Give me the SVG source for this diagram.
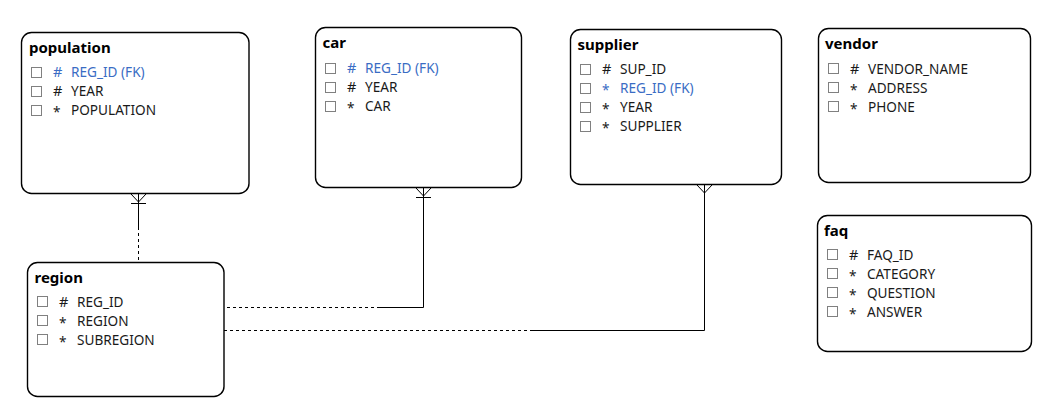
<svg xmlns="http://www.w3.org/2000/svg" width="1056" height="407" viewBox="0 0 1056 407">
<style>
.box{fill:#fff;stroke:#000;stroke-width:1.4}
.title{font-family:"Noto Sans","Open Sans","DejaVu Sans",sans-serif;font-size:15px;font-weight:bold;fill:#000}
.row{font-family:"Noto Sans","Open Sans","DejaVu Sans",sans-serif;font-size:13.6px;fill:#1a1a1a}
.sym{font-size:14.5px}
.fk{fill:#3a6cc4}
.cb{fill:#fff;stroke:#808080;stroke-width:1}
.ln{fill:none;stroke:#000;stroke-width:1}
.dash{fill:none;stroke:#000;stroke-width:1;stroke-dasharray:3,3}
</style>
<rect width="1056" height="407" fill="#fff"/>
<g id="connectors">
  <!-- population - region -->
  <path class="ln" d="M138.5,194 V227"/>
  <path class="dash" d="M138.5,227 V262"/>
  <path class="ln" d="M131,194 L138.5,202 L146,194 M131,203.5 H146"/>
  <!-- car - region -->
  <path class="ln" d="M423.5,188 V307.5 H380"/>
  <path class="dash" d="M380,307.5 H224"/>
  <path class="ln" d="M416,188 L423.5,196 L431,188 M416,197.5 H431"/>
  <!-- supplier - region -->
  <path class="ln" d="M704.5,185 V330.5 H533"/>
  <path class="dash" d="M533,330.5 H224"/>
  <path class="ln" d="M697,185 L704.5,193 L712,185"/>
</g>
<g id="population">
  <rect class="box" x="21.5" y="32.5" width="227.5" height="161" rx="10"/>
  <text class="title" x="29" y="53">population</text>
  <rect class="cb" x="31.5" y="67.5" width="10" height="10"/>
  <text class="row sym fk" x="53" y="77">#</text><text class="row fk" x="71" y="77">REG_ID (FK)</text>
  <rect class="cb" x="31.5" y="86.5" width="10" height="10"/>
  <text class="row sym" x="53" y="96">#</text><text class="row" x="71" y="96">YEAR</text>
  <rect class="cb" x="31.5" y="105.5" width="10" height="10"/>
  <text class="row" x="53" y="117">*</text><text class="row" x="71" y="115">POPULATION</text>
</g>
<g id="car">
  <rect class="box" x="315.5" y="27.5" width="206" height="160" rx="10"/>
  <text class="title" x="322.5" y="48">car</text>
  <rect class="cb" x="325.5" y="63.5" width="10" height="10"/>
  <text class="row sym fk" x="347" y="73">#</text><text class="row fk" x="365" y="73">REG_ID (FK)</text>
  <rect class="cb" x="325.5" y="82.5" width="10" height="10"/>
  <text class="row sym" x="347" y="92">#</text><text class="row" x="365" y="92">YEAR</text>
  <rect class="cb" x="325.5" y="101.5" width="10" height="10"/>
  <text class="row" x="347" y="113">*</text><text class="row" x="365" y="111">CAR</text>
</g>
<g id="supplier">
  <rect class="box" x="570.5" y="29.5" width="211" height="155" rx="10"/>
  <text class="title" x="577.5" y="50">supplier</text>
  <rect class="cb" x="580.5" y="64.5" width="10" height="10"/>
  <text class="row sym" x="602" y="74">#</text><text class="row" x="620" y="74">SUP_ID</text>
  <rect class="cb" x="580.5" y="83.5" width="10" height="10"/>
  <text class="row fk" x="602" y="95">*</text><text class="row fk" x="620" y="93">REG_ID (FK)</text>
  <rect class="cb" x="580.5" y="102.5" width="10" height="10"/>
  <text class="row" x="602" y="114">*</text><text class="row" x="620" y="112">YEAR</text>
  <rect class="cb" x="580.5" y="121.5" width="10" height="10"/>
  <text class="row" x="602" y="133">*</text><text class="row" x="620" y="131">SUPPLIER</text>
</g>
<g id="vendor">
  <rect class="box" x="818.5" y="28.5" width="212" height="154" rx="10"/>
  <text class="title" x="825" y="49">vendor</text>
  <rect class="cb" x="828.5" y="63.5" width="10" height="10"/>
  <text class="row sym" x="850" y="74">#</text><text class="row" x="868" y="74">VENDOR_NAME</text>
  <rect class="cb" x="828.5" y="82.5" width="10" height="10"/>
  <text class="row" x="850" y="95">*</text><text class="row" x="868" y="93">ADDRESS</text>
  <rect class="cb" x="828.5" y="101.5" width="10" height="10"/>
  <text class="row" x="850" y="114">*</text><text class="row" x="868" y="112">PHONE</text>
</g>
<g id="faq">
  <rect class="box" x="817.5" y="215.5" width="214" height="136" rx="10"/>
  <text class="title" x="824" y="236">faq</text>
  <rect class="cb" x="827.5" y="249.5" width="10" height="10"/>
  <text class="row sym" x="849" y="260">#</text><text class="row" x="867" y="260">FAQ_ID</text>
  <rect class="cb" x="827.5" y="268.5" width="10" height="10"/>
  <text class="row" x="849" y="281">*</text><text class="row" x="867" y="279">CATEGORY</text>
  <rect class="cb" x="827.5" y="287.5" width="10" height="10"/>
  <text class="row" x="849" y="300">*</text><text class="row" x="867" y="298">QUESTION</text>
  <rect class="cb" x="827.5" y="306.5" width="10" height="10"/>
  <text class="row" x="849" y="319">*</text><text class="row" x="867" y="317">ANSWER</text>
</g>
<g id="region">
  <rect class="box" x="27.5" y="262.5" width="196.5" height="134" rx="10"/>
  <text class="title" x="34.5" y="283">region</text>
  <rect class="cb" x="37.5" y="296.5" width="10" height="10"/>
  <text class="row sym" x="59" y="307">#</text><text class="row" x="77" y="307">REG_ID</text>
  <rect class="cb" x="37.5" y="315.5" width="10" height="10"/>
  <text class="row" x="59" y="328">*</text><text class="row" x="77" y="326">REGION</text>
  <rect class="cb" x="37.5" y="334.5" width="10" height="10"/>
  <text class="row" x="59" y="347">*</text><text class="row" x="77" y="345">SUBREGION</text>
</g>
</svg>
